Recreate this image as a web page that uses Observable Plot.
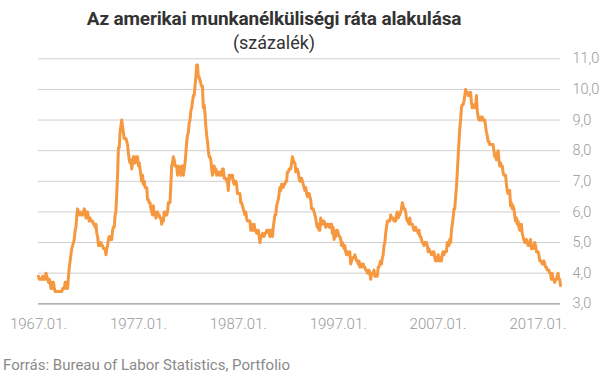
<!DOCTYPE html>
<html>
<head>
<meta charset="utf-8">
<script src="https://cdn.jsdelivr.net/npm/d3@7"></script>
<script src="https://cdn.jsdelivr.net/npm/@observablehq/plot@0.6"></script>
<style>
  html, body { margin: 0; padding: 0; background: #fff; }
  #wrap { position: relative; width: 605px; height: 378px; font-family: Roboto, "Noto Sans", sans-serif; }
  #title { position: absolute; left: 0; width: 548px; top: 7px; text-align: center; font-weight: 700; font-size: 19px; letter-spacing: -0.15px; color: #333; }
  #subtitle { position: absolute; left: 0; width: 548px; top: 32px; text-align: center; font-weight: 400; font-size: 18px; color: #333; }
  #caption { position: absolute; left: 3px; top: 356px; font-size: 15px; color: #8a8a8a; font-weight: 400; }
  #chart { position: absolute; left: 0; top: 0; }
</style>
</head>
<body>
<div id="wrap">
  <div id="chart"></div>
  <div id="title">Az amerikai munkanélküliségi ráta alakulása</div>
  <div id="subtitle">(százalék)</div>
  <div id="caption">Forrás: Bureau of Labor Statistics, Portfolio</div>
</div>
<script>
// Monthly US unemployment rate (%), starting 1967 January
const rate1967_1976 = [
  3.9,3.8,3.8,3.8,3.8,3.9,3.8,3.8,3.8,4.0,3.9,3.8,
  3.7,3.8,3.7,3.5,3.5,3.7,3.7,3.5,3.4,3.4,3.4,3.4,
  3.4,3.4,3.4,3.4,3.4,3.5,3.5,3.5,3.7,3.7,3.5,3.5,
  3.9,4.2,4.4,4.6,4.8,4.9,5.0,5.1,5.4,5.5,5.9,6.1,
  5.9,5.9,6.0,5.9,5.9,5.9,6.0,6.1,6.0,5.8,6.0,6.0,
  5.8,5.7,5.8,5.7,5.7,5.7,5.6,5.6,5.5,5.6,5.3,5.2,
  4.9,5.0,4.9,5.0,4.9,4.9,4.8,4.8,4.8,4.6,4.8,4.9,
  5.1,5.2,5.1,5.1,5.1,5.4,5.5,5.5,5.9,6.0,6.6,7.2,
  8.1,8.1,8.6,8.8,9.0,8.8,8.6,8.4,8.4,8.4,8.3,8.2,
  7.9,7.7,7.6,7.7,7.4,7.6,7.8,7.8,7.6,7.7,7.8,7.8
];
const rate1977_1986 = [
  7.5,7.6,7.4,7.2,7.0,7.2,6.9,7.0,6.8,6.8,6.8,6.4,
  6.4,6.3,6.3,6.1,6.0,5.9,6.2,5.9,6.0,5.8,5.9,6.0,
  5.9,5.9,5.8,5.8,5.6,5.7,5.7,6.0,5.9,6.0,5.9,6.0,
  6.3,6.3,6.3,6.9,7.5,7.6,7.8,7.7,7.5,7.5,7.5,7.2,
  7.5,7.4,7.4,7.2,7.5,7.5,7.2,7.4,7.6,7.9,8.3,8.5,
  8.6,8.9,9.0,9.3,9.4,9.6,9.8,9.8,10.1,10.4,10.8,10.8,
  10.4,10.4,10.3,10.2,10.1,10.1,9.4,9.5,9.2,8.8,8.5,8.3,
  8.0,7.8,7.8,7.7,7.4,7.2,7.5,7.5,7.3,7.4,7.2,7.3,
  7.3,7.2,7.2,7.3,7.2,7.4,7.4,7.1,7.1,7.1,7.0,7.0,
  6.7,7.2,7.2,7.1,7.2,7.2,7.0,6.9,7.0,7.0,6.9,6.6
];
const rate1987_1996 = [
  6.6,6.6,6.6,6.3,6.3,6.2,6.1,6.0,5.9,6.0,5.8,5.7,
  5.7,5.7,5.7,5.4,5.6,5.4,5.4,5.6,5.4,5.4,5.3,5.3,
  5.4,5.2,5.0,5.2,5.2,5.3,5.2,5.2,5.3,5.3,5.4,5.4,
  5.4,5.3,5.2,5.4,5.4,5.2,5.5,5.7,5.9,5.9,6.2,6.3,
  6.4,6.6,6.8,6.7,6.9,6.9,6.8,6.9,6.9,7.0,7.0,7.3,
  7.3,7.4,7.4,7.4,7.6,7.8,7.7,7.6,7.6,7.3,7.4,7.4,
  7.3,7.1,7.0,7.1,7.1,7.0,6.9,6.8,6.7,6.8,6.6,6.5,
  6.6,6.6,6.5,6.4,6.1,6.1,6.1,6.0,5.9,5.8,5.6,5.5,
  5.6,5.4,5.4,5.8,5.6,5.6,5.7,5.7,5.6,5.5,5.6,5.6,
  5.6,5.5,5.5,5.6,5.6,5.3,5.5,5.1,5.2,5.2,5.4,5.4
];
const rate1997_2006 = [
  5.3,5.2,5.2,5.1,4.9,5.0,4.9,4.8,4.9,4.7,4.6,4.7,
  4.6,4.6,4.7,4.3,4.4,4.5,4.5,4.5,4.6,4.5,4.4,4.4,
  4.3,4.4,4.2,4.3,4.2,4.3,4.3,4.2,4.2,4.1,4.1,4.0,
  4.0,4.1,4.0,3.8,4.0,4.0,4.0,4.1,3.9,3.9,3.9,3.9,
  4.2,4.2,4.3,4.4,4.3,4.5,4.6,4.9,5.0,5.3,5.5,5.7,
  5.7,5.7,5.7,5.9,5.8,5.8,5.8,5.7,5.7,5.7,5.9,6.0,
  5.8,5.9,5.9,6.0,6.1,6.3,6.2,6.1,6.1,6.0,5.8,5.7,
  5.7,5.6,5.8,5.6,5.6,5.6,5.5,5.4,5.4,5.5,5.4,5.4,
  5.3,5.4,5.2,5.2,5.1,5.0,5.0,4.9,5.0,5.0,5.0,4.9,
  4.7,4.8,4.7,4.7,4.6,4.6,4.7,4.7,4.5,4.4,4.5,4.4
];
const rate2007_2016 = [
  4.6,4.5,4.4,4.5,4.4,4.6,4.7,4.6,4.7,4.7,4.7,5.0,
  5.0,4.9,5.1,5.0,5.4,5.6,5.8,6.1,6.1,6.5,6.8,7.3,
  7.8,8.3,8.7,9.0,9.4,9.5,9.5,9.6,9.8,10.0,9.9,9.9,
  9.8,9.8,9.9,9.9,9.6,9.4,9.4,9.5,9.5,9.4,9.8,9.3,
  9.1,9.0,9.0,9.1,9.0,9.1,9.0,9.0,9.0,8.8,8.6,8.5,
  8.3,8.3,8.2,8.2,8.2,8.2,8.2,8.0,7.8,7.8,7.7,7.9,
  8.0,7.7,7.5,7.6,7.5,7.5,7.3,7.2,7.2,7.2,6.9,6.7,
  6.6,6.7,6.7,6.2,6.3,6.1,6.2,6.1,5.9,5.7,5.8,5.6,
  5.7,5.5,5.4,5.4,5.6,5.3,5.2,5.1,5.0,5.0,5.1,5.0,
  4.9,4.9,5.0,5.1,4.8,4.9,4.8,4.9,5.0,4.9,4.7,4.7
];
const rate2017_2019 = [
  4.7,4.6,4.4,4.4,4.4,4.3,4.3,4.4,4.3,4.2,4.2,4.1,
  4.1,4.1,4.0,4.0,3.8,4.0,3.8,3.8,3.7,3.8,3.8,3.9,
  4.0,3.8,3.8,3.6
];
const startYear = 1967;
const xTickYears = [1967, 1977, 1987, 1997, 2007, 2017];
const yTicks = [3, 4, 5, 6, 7, 8, 9, 10, 11];

const values = [].concat(rate1967_1976, rate1977_1986, rate1987_1996, rate1997_2006, rate2007_2016, rate2017_2019);
const data = values.map((v, i) => ({date: new Date(Date.UTC(startYear + Math.floor(i / 12), i % 12, 1)), rate: v}));
const lastDate = data[data.length - 1].date;

const chart = Plot.plot({
  width: 605,
  height: 378,
  marginTop: 58.3,
  marginBottom: 74.7,
  marginLeft: 38,
  marginRight: 45,
  style: {fontFamily: "Roboto, sans-serif", background: "transparent"},
  x: {type: "utc", domain: [data[0].date, lastDate]},
  y: {domain: [3, 11]},
  marks: [
    Plot.gridY(yTicks.slice(1), {stroke: "#cfcfcf", strokeOpacity: 1, strokeWidth: 1}),
    Plot.ruleY([3], {stroke: "#9a9a9a", strokeWidth: 1.2}),
    Plot.axisY(yTicks, {anchor: "right", tickSize: 0, tickPadding: 12, tickFormat: d => d.toFixed(1).replace(".", ","), fontSize: 14.5, fill: "#999", fontWeight: 300, label: null}),
    Plot.axisX(xTickYears.map(y => new Date(Date.UTC(y, 0, 1))), {anchor: "bottom", tickSize: 0, tickPadding: 15, tickFormat: d => d.getUTCFullYear() + ".01.", fontSize: 15, fill: "#999", fontWeight: 300, label: null}),
    Plot.line(data, {x: "date", y: "rate", stroke: "#F5983F", strokeWidth: 3, strokeLinejoin: "round", strokeLinecap: "round"})
  ]
});
document.getElementById("chart").appendChild(chart);
</script>
</body>
</html>
